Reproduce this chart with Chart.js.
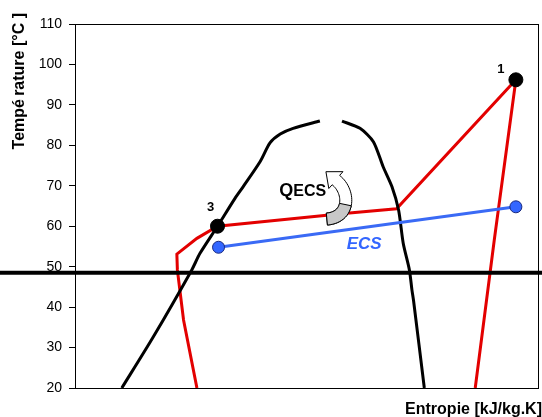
<!DOCTYPE html>
<html>
<head>
<meta charset="utf-8">
<script src="https://cdn.jsdelivr.net/npm/chart.js@4/dist/chart.umd.min.js"></script>
<style>
  html, body { margin: 0; padding: 0; background: #fff; }
  canvas { display: block; }
</style>
</head>
<body>
<canvas id="ts" width="542" height="417"></canvas>
<script>
// Saturation dome: liquid branch (left) and vapour branch (right)
const domeLiquidS = [1.091, 1.152, 1.227, 1.243, 1.277, 1.311, 1.327, 1.360, 1.379, 1.399, 1.424, 1.476];
const domeLiquidT = [20.0, 32.6, 49.2, 53.3, 60.0, 66.9, 69.8, 76.0, 80.6, 82.8, 84.2, 86.0];
const domeVaporS  = [1.519, 1.554, 1.580, 1.599, 1.616, 1.629, 1.638, 1.650, 1.655, 1.658, 1.679];
const domeVaporT  = [86.0, 84.2, 80.9, 74.7, 69.8, 64.0, 55.8, 49.2, 44.2, 41.7, 20.0];

// Refrigerant cycle (red)
const cycleS = [1.237, 1.211, 1.199, 1.198, 1.237, 1.277, 1.528, 1.625, 1.857, 1.815, 1.778];
const cycleT = [20.0, 36.8, 49.2, 53.1, 57.0, 60.0, 63.2, 64.3, 96.2, 56.6, 20.0];

// Domestic hot water heating line (blue)
const ecsS = [1.279, 1.857];
const ecsT = [54.8, 64.8];

// Numbered state points
const stateS = [1.857, 1.277];
const stateT = [96.2, 60.0];
const stateLabels = ['1', '3'];

// Axis range and ticks
const tempMin = 20, tempMax = 110, tempStep = 10;
const entropyMin = 1.0, entropyMax = 1.9;

// Reference temperature line across the figure
const refLineT = 48.5;

// Text placed in data coordinates
const qLabel = { s: 1.397, t: 67.5 };
const ecsLabel = { s: 1.562, t: 55.6, text: 'ECS' };
const arrowAnchor = { s: 1.511, t: 67.7 };

const FONT = '"Liberation Sans", Arial, sans-serif';

const pts = (xs, ys) => xs.map((x, i) => ({ x: x, y: ys[i] }));

const annotations = {
  id: 'annotations',
  beforeDraw(chart) {
    const ctx = chart.ctx;
    ctx.save();
    ctx.fillStyle = '#fff';
    ctx.fillRect(0, 0, chart.width, chart.height);
    ctx.restore();
  },
  afterDatasetsDraw(chart) {
    const ctx = chart.ctx;
    const xs = chart.scales.x, ys = chart.scales.y;
    const a = chart.chartArea;

    // plot frame
    ctx.save();
    ctx.strokeStyle = '#000';
    ctx.lineWidth = 1;
    ctx.strokeRect(Math.round(a.left) + 0.5, Math.round(a.top) + 0.5,
                   Math.round(a.right - a.left), Math.round(a.bottom - a.top));
    ctx.restore();

    // curved arrow next to the heat label
    const ax = xs.getPixelForValue(arrowAnchor.s);
    const ay = ys.getPixelForValue(arrowAnchor.t);
    drawCurvedArrow(ctx, ax, ay);

    // state point numbers
    ctx.save();
    ctx.fillStyle = '#000';
    ctx.font = 'bold 13px ' + FONT;
    ctx.textAlign = 'center';
    ctx.textBaseline = 'middle';
    const offs = [[-15, -10], [-7, -19]];
    stateLabels.forEach((lab, i) => {
      const px = xs.getPixelForValue(stateS[i]);
      const py = ys.getPixelForValue(stateT[i]);
      ctx.fillText(lab, px + offs[i][0], py + offs[i][1]);
    });

    // Q with ECS in smaller caps
    const qx = xs.getPixelForValue(qLabel.s);
    const qy = ys.getPixelForValue(qLabel.t);
    ctx.textAlign = 'left';
    ctx.textBaseline = 'alphabetic';
    ctx.font = 'bold 18px ' + FONT;
    ctx.fillText('Q', qx, qy);
    const qw = ctx.measureText('Q').width;
    ctx.font = 'bold 16px ' + FONT;
    ctx.fillText('ECS', qx + qw, qy);

    // ECS label under the blue line
    ctx.fillStyle = '#3366ff';
    ctx.font = 'italic bold 17px ' + FONT;
    ctx.textAlign = 'center';
    ctx.textBaseline = 'middle';
    ctx.fillText(ecsLabel.text, xs.getPixelForValue(ecsLabel.s), ys.getPixelForValue(ecsLabel.t));
    ctx.restore();

    // reference temperature line spanning the full width
    const ry = ys.getPixelForValue(refLineT);
    ctx.save();
    ctx.strokeStyle = '#000';
    ctx.lineWidth = 4;
    ctx.beginPath();
    ctx.moveTo(0, ry);
    ctx.lineTo(chart.width, ry);
    ctx.stroke();
    ctx.restore();

    // axis titles
    ctx.save();
    ctx.fillStyle = '#000';
    ctx.font = 'bold 16px ' + FONT;
    ctx.textAlign = 'right';
    ctx.textBaseline = 'alphabetic';
    ctx.fillText('Entropie [kJ/kg.K]', chart.width, chart.height - 3);
    ctx.translate(24, 13);
    ctx.rotate(-Math.PI / 2);
    ctx.textAlign = 'right';
    ctx.fillText('Tempé\u2009rature [°C ]', 0, 0);
    ctx.restore();
  }
};

function cubic(p0, p1, p2, p3, t) {
  const u = 1 - t;
  return {
    x: u*u*u*p0.x + 3*u*u*t*p1.x + 3*u*t*t*p2.x + t*t*t*p3.x,
    y: u*u*u*p0.y + 3*u*u*t*p1.y + 3*u*t*t*p2.y + t*t*t*p3.y
  };
}

function drawCurvedArrow(ctx, ox, oy) {
  // centreline of the ribbon, relative to the anchor
  const P0 = { x: ox - 11, y: oy + 24 };
  const P1 = { x: ox + 13, y: oy + 22 };
  const P2 = { x: ox + 12, y: oy - 4 };
  const P3 = { x: ox - 2, y: oy - 15 };
  const half = 6, N = 30;
  const left = [], right = [];
  for (let i = 0; i <= N; i++) {
    const t = i / N;
    const p = cubic(P0, P1, P2, P3, t);
    const q = cubic(P0, P1, P2, P3, Math.min(1, t + 0.01));
    const r = cubic(P0, P1, P2, P3, Math.max(0, t - 0.01));
    let dx = q.x - r.x, dy = q.y - r.y;
    const len = Math.hypot(dx, dy) || 1;
    dx /= len; dy /= len;
    left.push({ x: p.x - dy * half, y: p.y + dx * half });
    right.push({ x: p.x + dy * half, y: p.y - dx * half });
  }
  // head follows the end tangent
  const e = cubic(P0, P1, P2, P3, 1), f = cubic(P0, P1, P2, P3, 0.97);
  let hx = e.x - f.x, hy = e.y - f.y;
  const hl = Math.hypot(hx, hy); hx /= hl; hy /= hl;
  const nx = -hy, ny = hx;
  const tip = { x: e.x + hx * 13, y: e.y + hy * 13 };
  const b1 = { x: e.x + nx * 11, y: e.y + ny * 11 };
  const b2 = { x: e.x - nx * 11, y: e.y - ny * 11 };

  ctx.save();
  ctx.lineWidth = 1;
  ctx.strokeStyle = '#000';
  ctx.fillStyle = '#fff';
  ctx.beginPath();
  ctx.moveTo(left[0].x, left[0].y);
  left.forEach(p => ctx.lineTo(p.x, p.y));
  ctx.lineTo(b1.x, b1.y);
  ctx.lineTo(tip.x, tip.y);
  ctx.lineTo(b2.x, b2.y);
  for (let i = right.length - 1; i >= 0; i--) ctx.lineTo(right[i].x, right[i].y);
  ctx.closePath();
  ctx.fill();
  ctx.stroke();

  // shaded underside at the tail
  const cut = Math.round(N * 0.45);
  ctx.fillStyle = '#c8c8c8';
  ctx.beginPath();
  ctx.moveTo(left[0].x, left[0].y);
  for (let i = 0; i <= cut; i++) ctx.lineTo(left[i].x, left[i].y);
  for (let i = cut; i >= 0; i--) ctx.lineTo(right[i].x, right[i].y);
  ctx.closePath();
  ctx.fill();
  ctx.stroke();
  ctx.restore();
}

const lineDs = (label, data, color, width, order, tension) => ({
  label: label,
  data: data,
  showLine: true,
  borderColor: color,
  borderWidth: width,
  pointRadius: 0,
  tension: tension,
  order: order,
  fill: false
});

new Chart(document.getElementById('ts'), {
  type: 'scatter',
  data: {
    datasets: [
      {
        label: 'États',
        data: pts(stateS, stateT),
        showLine: false,
        pointRadius: 7,
        pointBackgroundColor: '#000',
        pointBorderColor: '#000',
        pointBorderWidth: 1,
        order: 0
      },
      {
        label: 'ECS',
        data: pts(ecsS, ecsT),
        showLine: true,
        borderColor: '#3a6af5',
        borderWidth: 3,
        pointRadius: 6,
        pointBackgroundColor: '#3366ff',
        pointBorderColor: '#1a2a80',
        pointBorderWidth: 1,
        order: 1
      },
      lineDs('Saturation liquide', pts(domeLiquidS, domeLiquidT), '#000', 3, 2, 0.25),
      lineDs('Saturation vapeur', pts(domeVaporS, domeVaporT), '#000', 3, 2, 0.25),
      lineDs('Cycle', pts(cycleS, cycleT), '#e30000', 3, 3, 0)
    ]
  },
  options: {
    responsive: false,
    animation: false,
    devicePixelRatio: 1,
    layout: { autoPadding: false, padding: { top: 24, right: 4, left: 0, bottom: 0 } },
    plugins: { legend: { display: false }, tooltip: { enabled: false } },
    scales: {
      x: {
        type: 'linear',
        min: entropyMin,
        max: entropyMax,
        grid: { display: false },
        border: { display: false },
        ticks: { display: false },
        afterFit(scale) { scale.height = 29; scale.paddingLeft = 0; scale.paddingRight = 0; }
      },
      y: {
        type: 'linear',
        min: tempMin,
        max: tempMax,
        grid: { display: true, drawOnChartArea: false, drawTicks: true, tickLength: 6, color: '#000', lineWidth: 1 },
        border: { display: true, color: '#000', width: 1 },
        ticks: {
          stepSize: tempStep,
          autoSkip: false,
          color: '#000',
          padding: 7,
          font: { family: FONT, size: 14 }
        },
        afterFit(scale) { scale.width = 75; }
      }
    }
  },
  plugins: [annotations]
});
</script>
</body>
</html>
